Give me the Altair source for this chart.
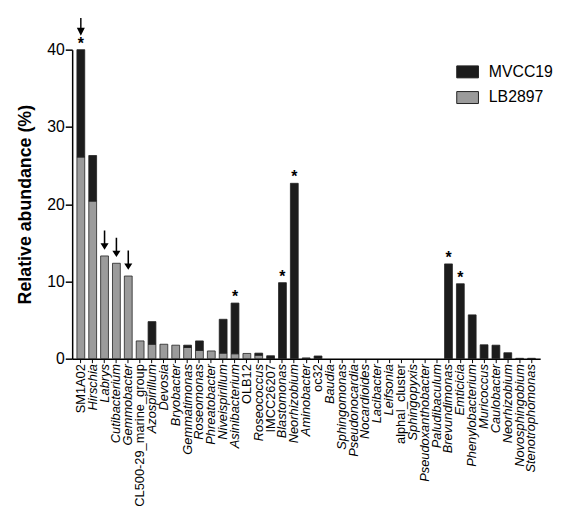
import altair as alt
import pandas as pd

names = ["SM1A02", "Hirschia", "Labrys", "Cutibacterium", "Gemmobacter",
         "CL500-29_marine_group", "Azospirillum", "Devosia", "Bryobacter",
         "Gemmatimonas", "Roseomonas", "Phreatobacter", "Niveispirillum",
         "Asinibacterium", "OLB12", "Roseococcus", "IMCC26207", "Blastomonas",
         "Neorhizobium", "Aminobacter", "oc32", "Baudia", "Sphingomonas",
         "Pseudonocardia", "Nocardioides", "Lacibacter", "Leifsonia",
         "alphaI_cluster", "Sphingopyxis", "Pseudoxanthobacter", "Paludibaculum",
         "Brevundimonas", "Emticicia", "Phenylobacterium", "Muricoccus",
         "Caulobacter", "Neorhizobium", "Novosphingobium", "Stenotrophomonas"]
lb2897 = [26.1, 20.4, 13.3, 12.35, 10.7, 2.3, 1.87, 1.87, 1.75, 1.45, 1.07, 1.0,
          0.72, 0.64, 0.68, 0.45, 0.05, 0, 0, 0, 0, 0, 0, 0, 0, 0, 0, 0, 0, 0,
          0, 0, 0, 0, 0, 0, 0, 0, 0]
mvcc19 = [13.9, 5.9, 0, 0, 0, 0, 2.93, 0, 0, 0.3, 1.23, 0, 4.38, 6.56, 0, 0.27,
          0.33, 9.84, 22.7, 0.1, 0.35, 0, 0, 0, 0, 0, 0, 0, 0, 0, 0, 12.27, 9.7,
          5.67, 1.8, 1.75, 0.77, 0.05, 0.05]
star_idx = [0, 13, 17, 18, 31, 32]
arrow_high_idx = [0]
arrow_low_idx = [2, 3, 4]
plain_idx = [0, 5, 14, 16, 20, 27]
y_ticks = [0, 10, 20, 30, 40]

n = len(names)
rows = []
for i, (a, b) in enumerate(zip(lb2897, mvcc19)):
    rows.append({"idx": i, "sample": "LB2897", "v": a, "ord": 0})
    rows.append({"idx": i, "sample": "MVCC19", "v": b, "ord": 1})
bars_df = pd.DataFrame(rows)
tops_df = pd.DataFrame({"idx": list(range(n)),
                        "top": [a + b for a, b in zip(lb2897, mvcc19)]})
stars_df = tops_df[tops_df["idx"].isin(star_idx)]
ah_df = tops_df[tops_df["idx"].isin(arrow_high_idx)]
al_df = tops_df[tops_df["idx"].isin(arrow_low_idx)]

FONT = "Liberation Sans"
label_expr = "[" + ",".join("'%s'" % s for s in names) + "][datum.value]"

x_scale = alt.Scale(domain=list(range(n)), paddingInner=0.34, paddingOuter=0.4)
y_scale = alt.Scale(domain=[0, 40], nice=False)

x_enc = alt.X("idx:O", scale=x_scale, title=None,
              axis=alt.Axis(labelExpr=label_expr, labelAngle=-90, labelFontSize=13,
                            labelFont=FONT, labelColor="black",
                            labelFontStyle={"condition": {"test": "indexof(%s, datum.value) >= 0" % plain_idx,
                                                          "value": "normal"},
                                            "value": "italic"},
                            tickSize=4, labelPadding=1, domainColor="black",
                            tickColor="black", domainWidth=1.5, labelOverlap=False,
                            labelBound=False))

bars = alt.Chart(bars_df).mark_bar(stroke="#222", strokeWidth=0.8).encode(
    x=x_enc,
    y=alt.Y("v:Q", stack="zero", scale=y_scale, title="Relative abundance (%)",
            axis=alt.Axis(values=y_ticks, tickSize=7, labelFontSize=16, labelFont=FONT,
                          labelColor="black", labelPadding=1, titleFont=FONT,
                          titleFontSize=18, titleFontWeight="bold", titleColor="black",
                          titlePadding=12, domainColor="black", tickColor="black",
                          domainWidth=1.5, tickWidth=1.5)),
    color=alt.Color("sample:N",
                    scale=alt.Scale(domain=["MVCC19", "LB2897"], range=["#1c1c1c", "#9b9b9b"]),
                    legend=alt.Legend(title=None, orient="none", legendX=389, legendY=11,
                                      symbolType="M-1,-0.55L1,-0.55L1,0.55L-1,0.55Z",
                                      symbolSize=484, symbolStrokeColor="#222",
                                      symbolStrokeWidth=1, labelFontSize=16, labelFont=FONT,
                                      labelColor="black", labelOffset=10, rowPadding=6)),
    order=alt.Order("ord:Q"),
).transform_filter("datum.v > 0")

stars = alt.Chart(stars_df).mark_text(text="*", fontSize=16, fontWeight="bold",
                                      font=FONT, baseline="alphabetic", dy=-1,
                                      color="black").encode(
    x=alt.X("idx:O", scale=x_scale), y=alt.Y("top:Q", scale=y_scale))

arrow_high = "M-0.08,-1L0.08,-1L0.08,0.1L0.45,0.1L0,1L-0.45,0.1L-0.08,0.1Z"
arrow_low = "M-0.08,-1L0.08,-1L0.08,0.33L0.42,0.33L0,1L-0.42,0.33L-0.08,0.33Z"

ah = alt.Chart(ah_df).mark_point(shape=arrow_high, filled=True, color="black",
                                 opacity=1, strokeWidth=0, size=324, yOffset=-23).encode(
    x=alt.X("idx:O", scale=x_scale), y=alt.Y("top:Q", scale=y_scale))
al = alt.Chart(al_df).mark_point(shape=arrow_low, filled=True, color="black",
                                 opacity=1, strokeWidth=0, size=380, yOffset=-16).encode(
    x=alt.X("idx:O", scale=x_scale), y=alt.Y("top:Q", scale=y_scale))

chart = alt.layer(bars, stars, ah, al).properties(
    width=474, height=313,
    autosize=alt.AutoSizeParams(type="none"),
    padding={"left": 65, "top": 39, "right": 13, "bottom": 146},
    background="white",
).configure_view(stroke=None).configure_axis(grid=False)

chart.save("out.html", embed_options={"renderer": "svg", "actions": False})
